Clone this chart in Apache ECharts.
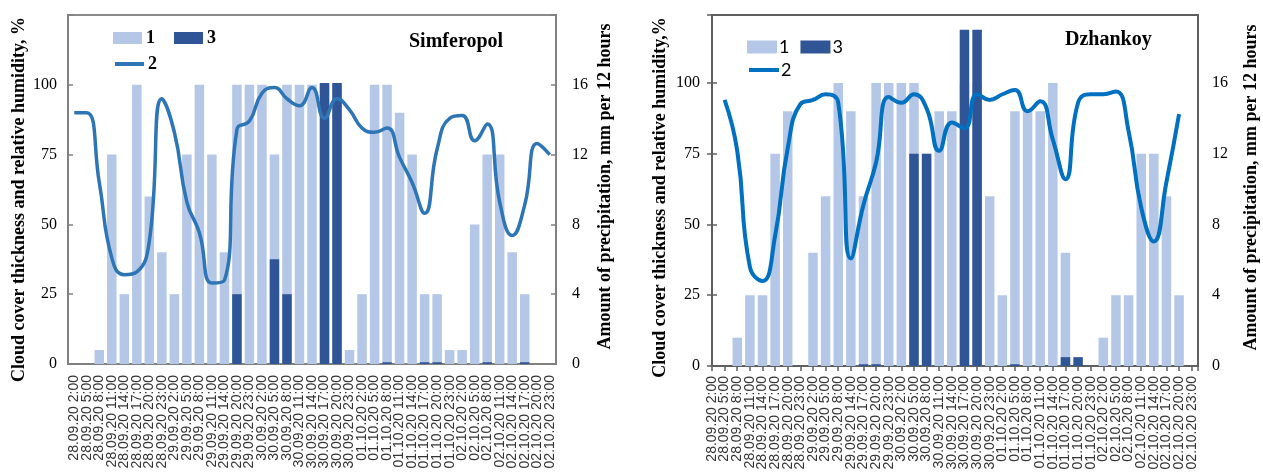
<!DOCTYPE html>
<html><head><meta charset="utf-8">
<script src="https://cdn.jsdelivr.net/npm/echarts@6/dist/echarts.min.js"></script>
<style>html,body{margin:0;padding:0;background:#fff}#c{width:1263px;height:473px}</style>
</head><body><div id="c"></div>
<script>
// ---------- DATA ----------
const catsSimf = [
  '28.09.20 2:00','28.09.20 5:00','28.09.20 8:00','28.09.20 11:00','28.09.20 14:00','28.09.20 17:00','28.09.20 20:00','28.09.20 23:00',
  '29.09.20 2:00','29.09.20 5:00','29.09.20 8:00','29.09.20 11:00','29.09.20 14:00','29.09.20 20:00','29.09.20 23:00',
  '30.09.20 2:00','30.09.20 5:00','30.09.20 8:00','30.09.20 11:00','30.09.20 14:00','30.09.20 17:00','30.09.20 20:00','30.09.20 23:00',
  '01.10.20 2:00','01.10.20 5:00','01.10.20 8:00','01.10.20 11:00','01.10.20 14:00','01.10.20 17:00','01.10.20 20:00','01.10.20 23:00',
  '02.10.20 2:00','02.10.20 5:00','02.10.20 8:00','02.10.20 11:00','02.10.20 14:00','02.10.20 17:00','02.10.20 20:00','02.10.20 23:00'
];
const cloudSimf = [0,0,5,75,25,100,60,40, 25,75,100,75,40,100,100, 100,75,100,100,100,100,100,5, 25,100,100,90,75,25,25,5, 5,50,75,75,40,25,0,0];
const humSimf   = [90,90,65,38,32,33,44,95, 83,58,47,29,30,84,87, 97,99,95,92.5,99,88,95,91, 84.5,83,84.5,74,65,54,77,88, 89,80,86,58,46,57,79,75];
const precSimf  = [0,0,0,0,0,0,0,0, 0,0,0,0,0,4,0, 0,6,4,0,0,16.1,16.1,0, 0,0,0.1,0,0,0.1,0.1,0, 0,0,0.1,0,0,0.1,0,0];

const catsDzh = [
  '28.09.20 2:00','28.09.20 5:00','28.09.20 8:00','28.09.20 11:00','28.09.20 14:00','28.09.20 17:00','28.09.20 20:00','28.09.20 23:00',
  '29.09.20 2:00','29.09.20 5:00','29.09.20 8:00','29.09.20 14:00','29.09.20 17:00','29.09.20 20:00','29.09.20 23:00',
  '30.09.20 2:00','30.09.20 5:00','30.09.20 8:00','30.09.20 11:00','30.09.20 14:00','30.09.20 17:00','30.09.20 20:00','30.09.20 23:00',
  '01.10.20 2:00','01.10.20 5:00','01.10.20 8:00','01.10.20 11:00','01.10.20 14:00','01.10.20 17:00','01.10.20 20:00','01.10.20 23:00',
  '02.10.20 2:00','02.10.20 5:00','02.10.20 8:00','02.10.20 11:00','02.10.20 14:00','02.10.20 17:00','02.10.20 20:00','02.10.20 23:00'
];
const cloudDzh = [0,0,10,25,25,75,90,0, 40,60,100,90,60,100,100, 100,100,75,90,90,100,100,60, 25,90,90,90,100,40,0,0, 10,25,25,75,75,60,25,0];
const humDzh   = [null,94,76,35,30,46,77,92.5, 94,96,93,38,57,72,95, 93,96,91,76,86,84,96,94, 96,97.5,90,93.5,80,66,93,96, 96,97,83,56,44,65,89,null];
const precDzh  = [0,0,0,0,0,0,0,0, 0,0,0,0,0.1,0.1,0, 0,12,12,0,0,19,19,0, 0,0.1,0,0,0,0.5,0.5,0, 0,0,0,0,0,0,0,0];

const pctMaxLabel = 100;
const mmMaxLabel = 16;

// ---------- STYLE ----------
const LIGHT = '#B4C7E7', DARK = '#2F5597', LINE1 = '#2E75B6', LINE2 = '#0070C0';
const SERIF = 'Liberation Serif', SANS = 'Liberation Sans';

function yAxisCommon(color) {
  return {
    type: 'value', splitLine: {show: false},
    axisLine: {show: true, lineStyle: {color: color, width: 2}},
    axisTick: {show: true, inside: true, length: 5, lineStyle: {color: color, width: 1.5}},
    nameLocation: 'middle'
  };
}
function nameStyle(padding) {
  return {fontFamily: SERIF, fontWeight: 'bold', fontSize: 18, color: '#000', padding: padding};
}
const pctFmt = v => v > pctMaxLabel ? '' : String(v);
const mmFmt = v => v > mmMaxLabel ? '' : String(v);
const dzhFmt = v => (Number.isInteger(v) && catsDzh[v] !== undefined) ? catsDzh[v] : '';

const chart = echarts.init(document.getElementById('c'), null, {renderer: 'canvas'});
const option = {
  animation: false,
  backgroundColor: '#fff',
  title: [
    {text: 'Simferopol', left: 409, top: 32, padding: 0, textStyle: {fontFamily: SERIF, fontWeight: 'bold', fontSize: 20, color: '#000'}},
    {text: 'Dzhankoy', left: 1065, top: 30, padding: 0, textStyle: {fontFamily: SERIF, fontWeight: 'bold', fontSize: 20, color: '#000'}}
  ],
  legend: [
    {left: 113, top: 29, padding: 0, itemWidth: 29, itemHeight: 12, itemGap: 19, selectedMode: false,
     textStyle: {fontFamily: SERIF, fontWeight: 'bold', fontSize: 18, color: '#000', padding: [0,0,0,-1]},
     data: [{name: '1', icon: 'rect', itemStyle: {color: LIGHT}}, {name: '3', icon: 'rect', itemStyle: {color: DARK}}]},
    {left: 113, top: 55, padding: 0, itemWidth: 29, itemHeight: 12, selectedMode: false,
     textStyle: {fontFamily: SERIF, fontWeight: 'bold', fontSize: 18, color: '#000', padding: [0,0,0,-1]},
     data: [{name: '2', itemStyle: {opacity: 0}, lineStyle: {color: LINE1, width: 4}}]},
    {left: 747, top: 38, padding: 0, itemWidth: 30, itemHeight: 13, itemGap: 11, selectedMode: false,
     textStyle: {fontFamily: 'Lato', fontSize: 18, color: '#000', padding: [0,0,0,-3]},
     data: [{name: '1', icon: 'rect', itemStyle: {color: LIGHT}}, {name: '3', icon: 'rect', itemStyle: {color: DARK}}]},
    {left: 747, top: 61, padding: 0, itemWidth: 30, itemHeight: 13, selectedMode: false,
     textStyle: {fontFamily: 'Lato', fontSize: 18, color: '#000', padding: [0,0,0,-3]},
     data: [{name: '2', itemStyle: {opacity: 0}, lineStyle: {color: LINE2, width: 4}}]}
  ],
  grid: [
    {left: 68, top: 15, width: 488, height: 349, show: true, borderColor: '#8a8a8a', borderWidth: 2, backgroundColor: 'transparent'},
    {left: 712, top: 15, width: 486, height: 351, show: true, borderColor: '#5f5f5f', borderWidth: 2, backgroundColor: 'transparent'}
  ],
  xAxis: [
    {type: 'category', gridIndex: 0, data: catsSimf, boundaryGap: true,
     axisLine: {lineStyle: {color: '#808080', width: 2}},
     axisTick: {inside: true, length: 5, lineStyle: {color: '#808080', width: 1.5}},
     axisLabel: {rotate: 90, interval: 0, margin: 11, fontFamily: SANS, fontSize: 14, color: '#333'}},
    // Dzhankoy: categories on tick marks; labels axis (half steps carry empty labels)
    {type: 'value', gridIndex: 1, min: 0, max: 38.5, interval: 0.5, splitLine: {show: false},
     axisLine: {lineStyle: {color: '#5f5f5f', width: 2}},
     axisTick: {show: false},
     axisLabel: {rotate: 90, margin: 10, fontFamily: SANS, fontSize: 14, color: '#333', formatter: dzhFmt}},
    // Dzhankoy: tick marks only
    {type: 'value', gridIndex: 1, min: 0, max: 38.5, interval: 1, splitLine: {show: false},
     axisLine: {show: false}, axisLabel: {show: false},
     axisTick: {show: true, inside: true, length: 5, lineStyle: {color: '#5f5f5f', width: 1.5}}}
  ],
  yAxis: [
    Object.assign(yAxisCommon('#808080'), {gridIndex: 0, position: 'left', min: 0, max: 125, interval: 25,
      name: 'Cloud cover thickness and relative humidity, %', nameGap: 40, nameTextStyle: nameStyle([0, 20, 0, 0]),
      axisLabel: {margin: 11, fontFamily: SERIF, fontSize: 16, color: '#000', formatter: pctFmt}}),
    Object.assign(yAxisCommon('#808080'), {gridIndex: 0, position: 'right', min: 0, max: 20, interval: 4,
      name: 'Amount of precipitation, mm per 12 hours', nameGap: 40, nameTextStyle: nameStyle([0, 0, 0, 6]),
      axisLabel: {margin: 16, fontFamily: SERIF, fontSize: 16, color: '#000', formatter: mmFmt}}),
    Object.assign(yAxisCommon('#5f5f5f'), {gridIndex: 1, position: 'left', min: 0, max: 124, interval: 25,
      name: 'Cloud cover thickness and relative humidity,%', nameGap: 43, nameTextStyle: nameStyle([0, 14, 0, 0]),
      axisLabel: {margin: 12, fontFamily: SERIF, fontSize: 16, color: '#000', formatter: pctFmt}}),
    Object.assign(yAxisCommon('#5f5f5f'), {gridIndex: 1, position: 'right', min: 0, max: 19.84, interval: 4,
      name: 'Amount of precipitation, mm per 12 hours', nameGap: 44, nameTextStyle: nameStyle([0, 0, 0, 6]),
      axisLabel: {margin: 14, fontFamily: SERIF, fontSize: 16, color: '#000', formatter: mmFmt}})
  ],
  series: [
    {name: '1', type: 'bar', xAxisIndex: 0, yAxisIndex: 0, data: cloudSimf, barWidth: 9.5, barGap: '-100%',
     itemStyle: {color: LIGHT}, z: 2},
    {name: '3', type: 'bar', xAxisIndex: 0, yAxisIndex: 1, data: precSimf, barWidth: 9.5, barGap: '-100%',
     itemStyle: {color: DARK}, z: 3},
    {name: '2', type: 'line', xAxisIndex: 0, yAxisIndex: 0, data: humSimf, smooth: 0.5, symbol: 'none',
     lineStyle: {color: LINE1, width: 3.5}, itemStyle: {color: LINE1}, z: 4},

    {name: '1', type: 'bar', xAxisIndex: 1, yAxisIndex: 2, data: cloudDzh.map((v, i) => [i, v]), barWidth: 9.5, barGap: '-100%',
     itemStyle: {color: LIGHT}, z: 2},
    {name: '3', type: 'bar', xAxisIndex: 1, yAxisIndex: 3, data: precDzh.map((v, i) => [i, v]), barWidth: 9.5, barGap: '-100%',
     itemStyle: {color: DARK}, z: 3},
    {name: '2', type: 'line', xAxisIndex: 1, yAxisIndex: 2, data: humDzh.map((v, i) => [i, v]).filter(p => p[1] !== null),
     smooth: 0.5, symbol: 'none', lineStyle: {color: LINE2, width: 4}, itemStyle: {color: LINE2}, z: 4}
  ]
};
chart.setOption(option);
</script>
</body></html>
